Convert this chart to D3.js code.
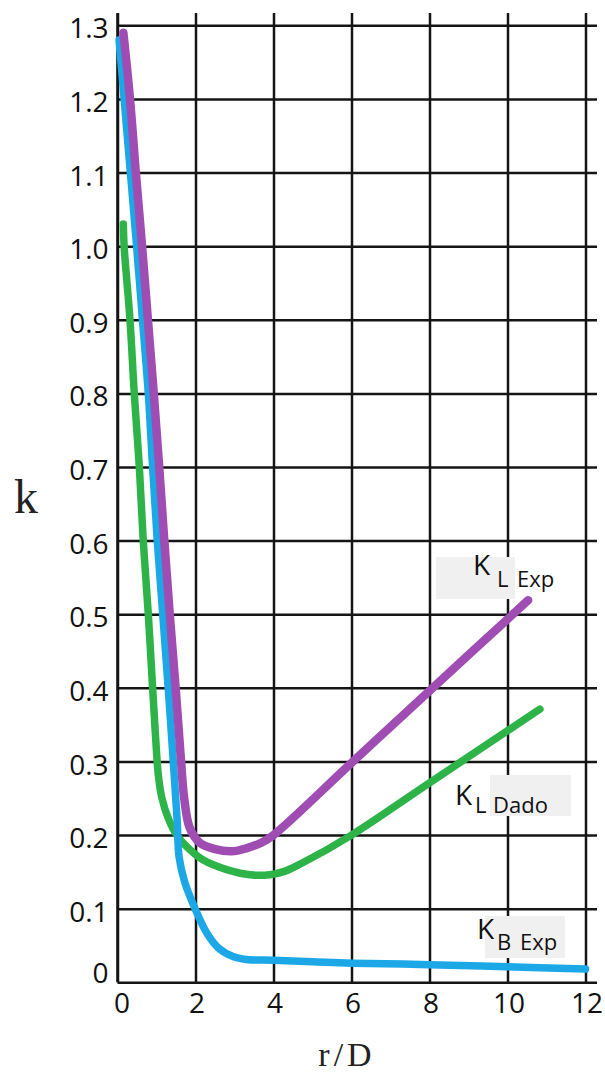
<!DOCTYPE html>
<html>
<head>
<meta charset="utf-8">
<script src="https://cdn.jsdelivr.net/npm/d3@7"></script>
<style>
  body { margin: 0; background: #fff; }
  svg { display: block; }
</style>
</head>
<body>
<svg id="chart" width="605" height="1072"></svg>
<script>
// tick values
let xTicks = [0, 2, 4, 6, 8, 10, 12]
let yTicks = [0, 0.1, 0.2, 0.3, 0.4, 0.5, 0.6, 0.7, 0.8, 0.9, 1.0, 1.1, 1.2, 1.3]

// series, [r/D, k]
let kLExp = [[0.15, 1.29], [0.32, 1.2], [0.47, 1.1], [0.63, 1.0], [0.78, 0.9], [0.93, 0.8],
  [1.07, 0.7], [1.2, 0.6], [1.34, 0.5], [1.49, 0.4], [1.63, 0.3], [1.71, 0.25], [1.85, 0.21],
  [2.1, 0.19], [2.5, 0.181], [2.93, 0.178], [3.3, 0.182], [3.7, 0.19], [4.0, 0.2],
  [6.0, 0.298], [8.0, 0.396], [10.53, 0.519]]

let kBExp = [[0.04, 1.28], [0.17, 1.2], [0.33, 1.1], [0.49, 1.0], [0.64, 0.9], [0.79, 0.8],
  [0.9, 0.7], [1.02, 0.6], [1.16, 0.5], [1.3, 0.4], [1.43, 0.3], [1.53, 0.22], [1.58, 0.17],
  [1.73, 0.135], [1.99, 0.1], [2.29, 0.067], [2.6, 0.046], [2.96, 0.035], [3.3, 0.031],
  [4.0, 0.03], [5.0, 0.028], [6.0, 0.026], [8.0, 0.024], [10.0, 0.021], [12.0, 0.018]]

let kLDado = [[0.15, 1.03], [0.17, 1.0], [0.32, 0.9], [0.43, 0.8], [0.56, 0.7], [0.66, 0.6],
  [0.79, 0.5], [0.9, 0.4], [0.98, 0.33], [1.05, 0.28], [1.14, 0.25], [1.3, 0.223], [1.52, 0.2],
  [1.86, 0.18], [2.2, 0.166], [2.8, 0.153], [3.4, 0.146], [3.9, 0.146], [4.3, 0.151],
  [4.7, 0.161], [6.0, 0.2], [8.0, 0.271], [10.83, 0.371]]

let seriesNames = ['K_L Dado', 'K_B Exp', 'K_L Exp']
let seriesColors = ['#2fb34a', '#1ca7e6', '#a04db3']

let svg = d3.select('#chart')

let x = d3.scaleLinear().domain([0, 12]).range([117.5, 585.5])
let y = d3.scaleLinear().domain([0, 1.3]).range([982.3, 25.3])

let gridColor = '#151515'
let tickFont = "'Open Sans', sans-serif"

// vertical grid + x labels
let xAxis = svg.append('g')
    .attr('transform', `translate(0,${y(0)})`)
    .call(d3.axisBottom(x).tickValues(xTicks).tickSize(-(y(0) - 13)).tickFormat(d3.format('d')))
xAxis.select('.domain').remove()
xAxis.selectAll('line').attr('stroke', gridColor).attr('stroke-width', 2.5)
xAxis.selectAll('text')
    .attr('y', 31).attr('dy', 0)
    .attr('dx', (d) => d === 0 ? 4 : 1)
    .attr('font-family', tickFont).attr('font-size', 28).attr('fill', '#111')

// horizontal grid + y labels
let yAxis = svg.append('g')
    .attr('transform', `translate(${x(0)},0)`)
    .call(d3.axisLeft(y).tickValues(yTicks).tickSize(-(597 - x(0))).tickPadding(9)
        .tickFormat((d) => d === 0 ? '0' : d3.format('.1f')(d)))
yAxis.select('.domain').remove()
yAxis.selectAll('line').attr('stroke', gridColor).attr('stroke-width', 2.5)
yAxis.selectAll('text')
    .attr('dy', (d) => d === 0 ? '0.0em' : '0.45em')
    .attr('font-family', tickFont).attr('font-size', 28).attr('fill', '#111')

// left axis line runs above the top gridline
svg.append('line')
    .attr('x1', x(0)).attr('x2', x(0))
    .attr('y1', 13).attr('y2', y(0))
    .attr('stroke', gridColor).attr('stroke-width', 2.5)

// soft edges like a marker stroke
svg.append('defs').append('filter').attr('id', 'soft')
    .append('feGaussianBlur').attr('stdDeviation', 0.7)

let line = d3.line()
    .x((d) => x(d[0]))
    .y((d) => y(d[1]))
    .curve(d3.curveCatmullRom.alpha(0.5))

let allSeries = [kLDado, kBExp, kLExp]
svg.selectAll('path.curve')
    .data(allSeries)
    .enter()
    .append('path')
    .attr('class', 'curve')
    .attr('d', line)
    .attr('fill', 'none')
    .attr('stroke', (d, i) => seriesColors[i])
    .attr('stroke-width', (d, i) => i === 2 ? 8.5 : 7.5)
    .attr('stroke-linecap', 'round')
    .attr('stroke-linejoin', 'round')
    .attr('filter', 'url(#soft)')

// curve labels with grey boxes
let labels = [
    { box: [436, 557, 79, 42], k: [473, 575], sub: 'L', subX: 497, subY: 587, rest: 'Exp', restX: 517 },
    { box: [490, 775, 81, 41], k: [455, 805], sub: 'L', subX: 475, subY: 813, rest: 'Dado', restX: 493 },
    { box: [485, 916, 80, 42], k: [477, 939], sub: 'B', subX: 497, subY: 950, rest: 'Exp', restX: 520 }
]
labels.forEach((l) => {
    let g = svg.append('g')
    g.append('rect')
        .attr('x', l.box[0]).attr('y', l.box[1])
        .attr('width', l.box[2]).attr('height', l.box[3])
        .attr('fill', '#f0f0f0')
    g.append('text').attr('x', l.k[0]).attr('y', l.k[1]).text('K')
        .attr('font-family', tickFont).attr('font-size', 28).attr('fill', '#111')
    g.append('text').attr('x', l.subX).attr('y', l.subY).text(l.sub)
        .attr('font-family', tickFont).attr('font-size', 22).attr('fill', '#111')
    g.append('text').attr('x', l.restX).attr('y', l.subY).text(l.rest)
        .attr('font-family', tickFont).attr('font-size', 22).attr('fill', '#111')
})

// axis titles
svg.append('text')
    .attr('x', 26).attr('y', 513)
    .attr('text-anchor', 'middle')
    .attr('font-family', "'Liberation Serif', serif")
    .attr('font-size', 48).attr('fill', '#222')
    .text('k')

svg.append('text')
    .attr('x', 347).attr('y', 1066)
    .attr('text-anchor', 'middle')
    .attr('font-family', "'Liberation Serif', serif")
    .attr('font-size', 34).attr('letter-spacing', 4).attr('fill', '#222')
    .text('r/D')
</script>
</body>
</html>
